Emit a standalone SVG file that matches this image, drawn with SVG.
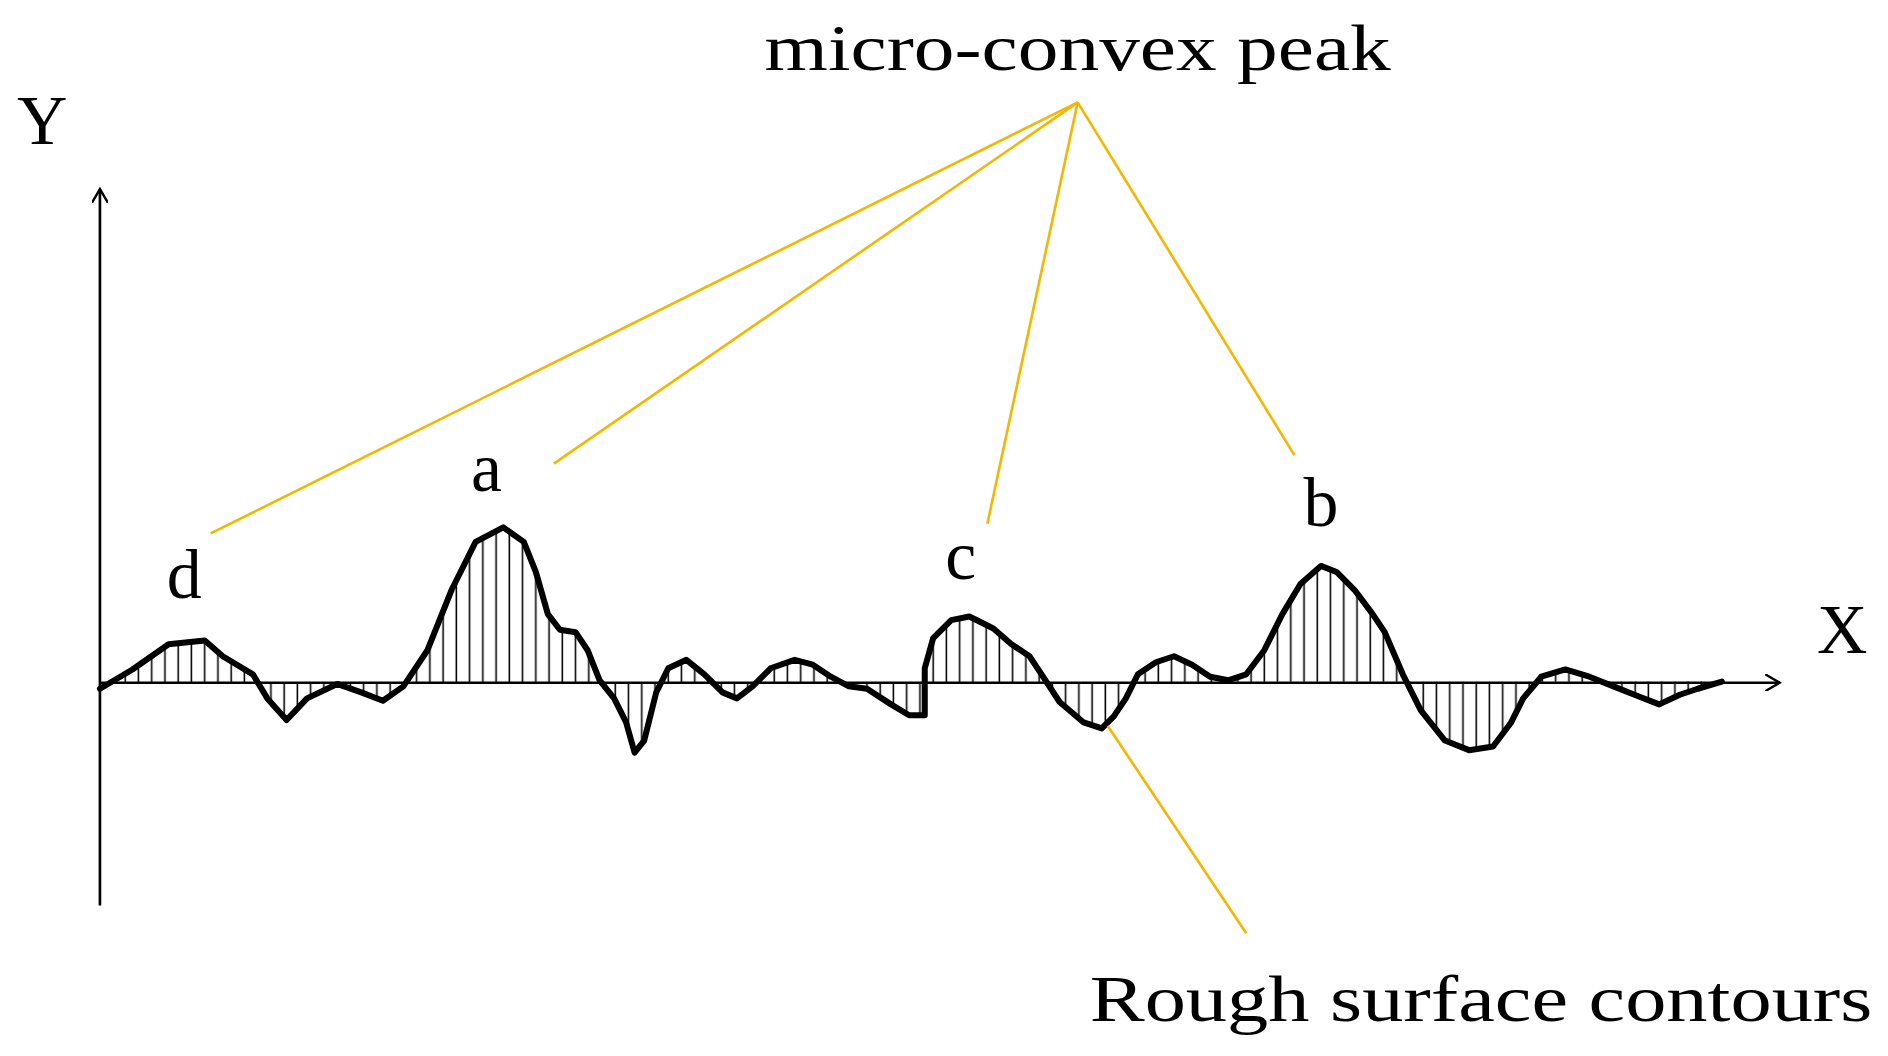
<svg xmlns="http://www.w3.org/2000/svg" width="1888" height="1056" viewBox="0 0 1888 1056">
<style>
.lbl{font-family:"Liberation Serif","DejaVu Serif",serif;fill:#000}
.y{stroke:#F2B705;stroke-width:2.2;fill:none}
.ax{stroke:#000;stroke-width:2.2;fill:none}
</style>
<defs>
<pattern id="hatch" patternUnits="userSpaceOnUse" width="11" height="20"><line x1="5" y1="0" x2="5" y2="20" stroke="#000" stroke-width="1.3"/></pattern>
<marker id="arr" markerWidth="14" markerHeight="14" refX="12" refY="7" orient="auto" markerUnits="userSpaceOnUse"><path d="M0,0 L12,7 L0,14" fill="none" stroke="#000" stroke-width="2"/></marker>
</defs>
<rect width="1888" height="1056" fill="#fff"/>
<g transform="scale(1.2041)">
<g id="axes">
<line class="ax" x1="83" y1="752" x2="83" y2="157" marker-end="url(#arr)"/>
<line class="ax" x1="83" y1="567" x2="1478" y2="567" marker-end="url(#arr)"/>
</g>
<g id="profile">
<polygon fill="url(#hatch)" fill-rule="evenodd" points="83,572 110,556 140,535 170,532 185,545 210,560 222,580 238,598 255,580 280,568 300,575 318,582 335,570 355,540 375,490 395,450 418,438 435,450 445,475 455,510 465,523 478,525 488,540 498,565 510,580 520,600 527,625 535,615 545,575 555,555 570,548 585,560 600,575 612,580 625,570 640,555 660,548 675,552 690,562 705,570 720,572 740,585 755,594 768,594 768,555 775,530 790,515 805,512 825,522 840,535 855,545 865,560 880,583 900,600 915,605 925,595 935,580 945,560 960,550 975,545 990,552 1005,562 1020,565 1035,560 1050,540 1065,510 1080,485 1097,470 1110,475 1125,490 1140,510 1150,525 1165,560 1180,590 1200,615 1220,623 1240,620 1255,600 1265,580 1280,562 1300,556 1320,562 1340,570 1360,578 1378,585 1395,577 1410,572 1430,566 83,567"/>
<polyline fill="none" stroke="#000" stroke-width="5" stroke-linejoin="round" stroke-linecap="round" points="83,572 110,556 140,535 170,532 185,545 210,560 222,580 238,598 255,580 280,568 300,575 318,582 335,570 355,540 375,490 395,450 418,438 435,450 445,475 455,510 465,523 478,525 488,540 498,565 510,580 520,600 527,625 535,615 545,575 555,555 570,548 585,560 600,575 612,580 625,570 640,555 660,548 675,552 690,562 705,570 720,572 740,585 755,594 768,594 768,555 775,530 790,515 805,512 825,522 840,535 855,545 865,560 880,583 900,600 915,605 925,595 935,580 945,560 960,550 975,545 990,552 1005,562 1020,565 1035,560 1050,540 1065,510 1080,485 1097,470 1110,475 1125,490 1140,510 1150,525 1165,560 1180,590 1200,615 1220,623 1240,620 1255,600 1265,580 1280,562 1300,556 1320,562 1340,570 1360,578 1378,585 1395,577 1410,572 1430,566"/>
</g>
<g id="connectors">
<line class="y" x1="895" y1="85" x2="175" y2="443"/>
<line class="y" x1="895" y1="85" x2="460" y2="385"/>
<line class="y" x1="895" y1="85" x2="820" y2="435"/>
<line class="y" x1="895" y1="85" x2="1075" y2="378"/>
<line class="y" x1="920" y1="603" x2="1035" y2="775"/>
</g>
<g id="labels">
<text class="lbl" x="35" y="120" font-size="58" text-anchor="middle">Y</text>
<text class="lbl" x="1530" y="542" font-size="58" text-anchor="middle">X</text>
<text class="lbl" x="635" y="58" font-size="54" textLength="520" lengthAdjust="spacingAndGlyphs">micro-convex peak</text>
<text class="lbl" x="905" y="848" font-size="54" textLength="650" lengthAdjust="spacingAndGlyphs">Rough surface contours</text>
<text class="lbl" x="153" y="497" font-size="58" text-anchor="middle">d</text>
<text class="lbl" x="404" y="408" font-size="58" text-anchor="middle">a</text>
<text class="lbl" x="798" y="481" font-size="58" text-anchor="middle">c</text>
<text class="lbl" x="1097" y="437" font-size="58" text-anchor="middle">b</text>
</g>
</g>
</svg>
